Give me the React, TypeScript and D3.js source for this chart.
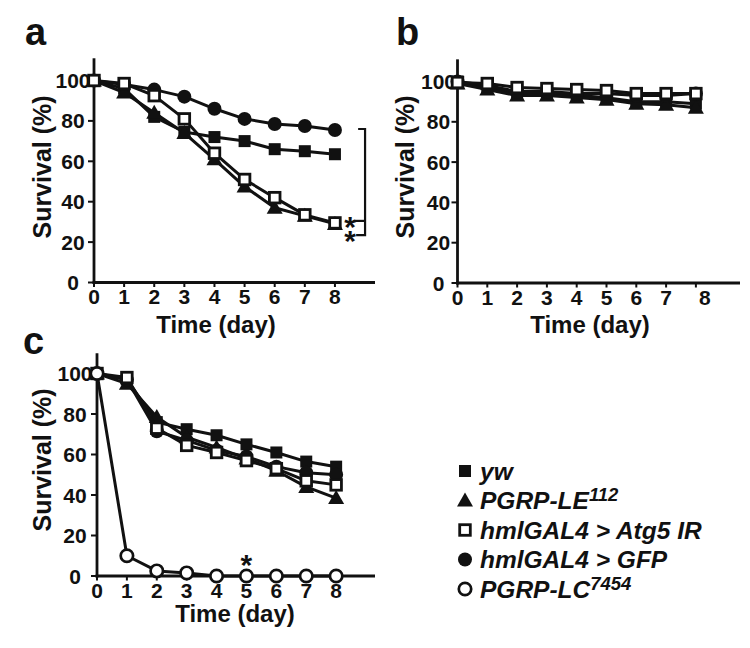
import React from 'react';
import * as d3 from 'd3';

// ---------- data ----------
const days = [0, 1, 2, 3, 4, 5, 6, 7, 8];
const xTickValues = [0, 1, 2, 3, 4, 5, 6, 7, 8];
const yTickValues = [0, 20, 40, 60, 80, 100];

const seriesKeys = ['yw', 'LE', 'Atg5', 'GFP', 'LC'];
const markerOf: Record<string, string> = { yw: 'fsq', LE: 'tri', Atg5: 'osq', GFP: 'fci', LC: 'oci' };

// panel a
const aYw = [100, 96, 82, 74.5, 72, 70, 66, 65, 63.5];
const aLE = [100, 94, 84, 74, 61, 47.5, 37, 33, 29];
const aAtg5 = [100, 98.5, 92.5, 81, 64, 51, 42, 33.5, 29.5];
const aGFP = [100, 98, 95.5, 92, 86, 81, 78.5, 77.5, 75.5];

// panel b
const bYw = [100, 97, 94, 94, 93, 92, 90, 90, 89];
const bLE = [99, 96, 93, 93, 92, 91, 89, 88.5, 87];
const bAtg5 = [99.5, 99, 97, 96.5, 96, 95.5, 94, 94, 94];
const bGFP = [100, 98, 95, 95, 94, 94, 93, 93, 94];

// panel c
const cYw = [100, 97, 76, 72.5, 69.5, 65, 61, 56.5, 54];
const cLE = [100, 95, 78.5, 68.5, 63.5, 58, 52, 44, 38.5];
const cAtg5 = [100, 98, 73, 64.5, 61, 57, 53, 47, 45];
const cGFP = [100, 97, 71.5, 67, 62, 59, 54, 51, 50];
const cLC = [100, 10, 2.5, 1.5, 0, 0, 0, 0, 0];

const legendLabels = ['yw', 'PGRP-LE', 'hmlGAL4 > Atg5 IR', 'hmlGAL4 > GFP', 'PGRP-LC'];
const legendSups = ['', '112', '', '', '7454'];

const FONT = '"Liberation Sans", Arial, Helvetica, sans-serif';
const INK = '#111';

type Panel = {
  letter: string;
  letterPos: [number, number];
  xRange: [number, number];
  xMax: number;
  yRange: [number, number];
  yTop: number;
  labelOffset: number;
  yTitle: [number, number];
  xTitle: [number, number];
  lastLabelDx: number;
  series: { key: string; values: number[] }[];
  asterisks: [number, number][];
  bracket?: { x0: number; x1: number; xm: number; top: number; mid: number; bottom: number };
};

const panels: Panel[] = [
  {
    letter: 'a', letterPos: [25, 45],
    xRange: [94, 375], xMax: 9.33, yRange: [282.5, 80.5], yTop: 111,
    labelOffset: -21, yTitle: [51, 167], xTitle: [216, 333], lastLabelDx: 0,
    series: [
      { key: 'GFP', values: aGFP },
      { key: 'yw', values: aYw },
      { key: 'LE', values: aLE },
      { key: 'Atg5', values: aAtg5 },
    ],
    asterisks: [[8.5, 31], [8.5, 24]],
    bracket: { x0: 8.77, x1: 9.0, xm: 8.62, top: 76, mid: 30.5, bottom: 23.5 },
  },
  {
    letter: 'b', letterPos: [396, 45],
    xRange: [457.5, 740], xMax: 9.48, yRange: [283, 81.5], yTop: 111,
    labelOffset: -19, yTitle: [414, 167], xTitle: [590, 333], lastLabelDx: 9,
    series: [
      { key: 'yw', values: bYw },
      { key: 'LE', values: bLE },
      { key: 'GFP', values: bGFP },
      { key: 'Atg5', values: bAtg5 },
    ],
    asterisks: [],
  },
  {
    letter: 'c', letterPos: [23, 354],
    xRange: [97, 375], xMax: 9.3, yRange: [576, 373.5], yTop: 110,
    labelOffset: -22, yTitle: [51, 460], xTitle: [235, 622], lastLabelDx: 0,
    series: [
      { key: 'yw', values: cYw },
      { key: 'LE', values: cLE },
      { key: 'GFP', values: cGFP },
      { key: 'Atg5', values: cAtg5 },
      { key: 'LC', values: cLC },
    ],
    asterisks: [[5, 9]],
  },
];

function Marker({ type, x, y }: { type: string; x: number; y: number }) {
  switch (type) {
    case 'fsq':
      return <rect x={x - 6} y={y - 6} width={12} height={12} fill={INK} />;
    case 'osq':
      return <rect x={x - 5.3} y={y - 5.3} width={10.6} height={10.6} fill="#fff" stroke={INK} strokeWidth={2.8} />;
    case 'tri':
      return <path d={`M${x},${y - 8}L${x + 8},${y + 6}L${x - 8},${y + 6}Z`} fill={INK} />;
    case 'fci':
      return <circle cx={x} cy={y} r={7} fill={INK} />;
    case 'oci':
      return <circle cx={x} cy={y} r={6.2} fill="#fff" stroke={INK} strokeWidth={2.7} />;
    default:
      return null;
  }
}

function PanelView({ p }: { p: Panel }) {
  const xs = d3.scaleLinear().domain([0, p.xMax]).range(p.xRange);
  const ys = d3.scaleLinear().domain([0, 100]).range(p.yRange);
  const line = d3
    .line<[number, number]>()
    .x((d) => xs(d[0]))
    .y((d) => ys(d[1]));
  const x0 = xs(0);
  const y0 = ys(0);
  return (
    <g>
      <text x={p.letterPos[0]} y={p.letterPos[1]} fontSize={38} fontWeight="bold" fontFamily={FONT} fill={INK}>
        {p.letter}
      </text>
      {/* axes */}
      <line x1={x0} x2={x0} y1={y0 + 1.5} y2={ys(p.yTop)} stroke={INK} strokeWidth={2.8} />
      <line x1={x0 - 1.4} x2={xs(p.xMax)} y1={y0} y2={y0} stroke={INK} strokeWidth={3} />
      {yTickValues.map((t) => (
        <g key={'y' + t}>
          <line x1={x0 - 6} x2={x0} y1={ys(t)} y2={ys(t)} stroke={INK} strokeWidth={2} />
          <text
            x={x0 + p.labelOffset}
            y={ys(t)}
            dy="0.36em"
            textAnchor="middle"
            fontSize={21}
            fontWeight="bold"
            fontFamily={FONT}
            fill={INK}
          >
            {t}
          </text>
        </g>
      ))}
      {xTickValues.map((t, i) => (
        <g key={'x' + t}>
          <line x1={xs(t)} x2={xs(t)} y1={y0} y2={y0 + 4.5} stroke={INK} strokeWidth={2} />
          <text
            x={xs(t) + (i === xTickValues.length - 1 ? p.lastLabelDx : 0)}
            y={y0 + 21.5}
            textAnchor="middle"
            fontSize={21}
            fontWeight="bold"
            fontFamily={FONT}
            fill={INK}
          >
            {t}
          </text>
        </g>
      ))}
      <text
        transform={`translate(${p.yTitle[0]},${p.yTitle[1]}) rotate(-90)`}
        textAnchor="middle"
        fontSize={25}
        fontWeight="bold"
        fontFamily={FONT}
        fill={INK}
      >
        Survival (%)
      </text>
      <text x={p.xTitle[0]} y={p.xTitle[1]} textAnchor="middle" fontSize={24} fontWeight="bold" fontFamily={FONT} fill={INK}>
        Time (day)
      </text>
      {/* series */}
      {p.series.map((s) => {
        const pts = days.map((d, i) => [d, s.values[i]] as [number, number]);
        return (
          <g key={s.key}>
            <path d={line(pts) || ''} fill="none" stroke={INK} strokeWidth={3} strokeLinejoin="round" />
            {pts.map((pt, i) => (
              <Marker key={i} type={markerOf[s.key]} x={xs(pt[0])} y={ys(pt[1])} />
            ))}
          </g>
        );
      })}
      {p.asterisks.map((a, i) => (
        <text
          key={'ast' + i}
          x={xs(a[0])}
          y={ys(a[1]) + 17}
          textAnchor="middle"
          fontSize={30}
          fontWeight="bold"
          fontFamily={FONT}
          fill={INK}
        >
          *
        </text>
      ))}
      {p.bracket && (
        <g fill="none" stroke={INK} strokeWidth={2.2}>
          <path
            d={`M${xs(p.bracket.x0)},${ys(p.bracket.top)}H${xs(p.bracket.x1)}V${ys(p.bracket.bottom)}H${xs(p.bracket.x0) - 2}`}
          />
          <path d={`M${xs(p.bracket.xm)},${ys(p.bracket.mid)}H${xs(p.bracket.x1)}`} />
        </g>
      )}
    </g>
  );
}

export default function App() {
  const legendX = 465;
  const legendY0 = 471;
  const legendStep = 29.5;
  return (
    <svg
      width={750}
      height={648}
      viewBox="0 0 750 648"
      style={{ position: 'absolute', left: 0, top: 0, background: '#fff' }}
    >
      <rect width={750} height={648} fill="#fff" />
      {panels.map((p) => (
        <PanelView key={p.letter} p={p} />
      ))}
      {legendLabels.map((lab, i) => {
        const cy = legendY0 + i * legendStep;
        return (
          <g key={lab}>
            <Marker type={markerOf[seriesKeys[i]]} x={legendX} y={cy} />
            <text
              x={legendX + 15}
              y={cy + 8.5}
              fontSize={24.5}
              fontWeight="bold"
              fontStyle="italic"
              fontFamily={FONT}
              fill={INK}
            >
              {lab}
              {legendSups[i] && (
                <tspan fontSize={18.5} dy={-8}>
                  {legendSups[i]}
                </tspan>
              )}
            </text>
          </g>
        );
      })}
    </svg>
  );
}
